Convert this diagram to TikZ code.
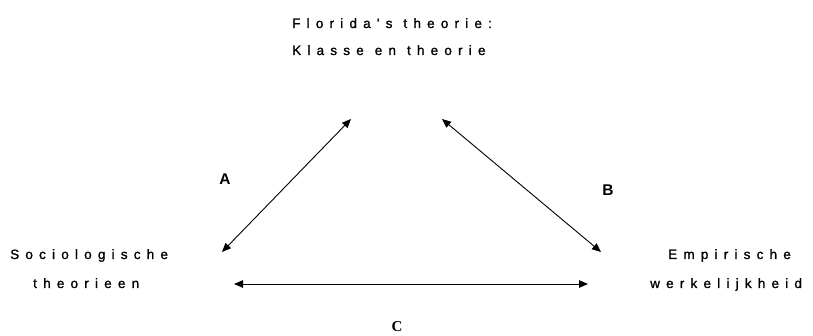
\documentclass[tikz,border=0pt]{standalone}
\usepackage{fontspec}
\setmainfont{Liberation Sans}
\newfontfamily\spaced[LetterSpace=46,FakeBold=1.2]{Liberation Sans}
\newfontfamily\serifb{Liberation Serif}
\usetikzlibrary{arrows.meta}
\newcommand{\wsp}{\hskip 11pt\relax}
\begin{document}
\begin{tikzpicture}[x=1pt,y=-1pt,
  lbl/.style={font=\spaced\fontsize{13.5}{15}\selectfont, inner sep=0pt, anchor=base west},
  letter/.style={font=\bfseries\fontsize{15.5}{17}\selectfont, inner sep=0pt},
  link/.style={line width=0.9pt, {Triangle[length=9pt,width=7.5pt]}-{Triangle[length=9pt,width=7.5pt]}}]
\useasboundingbox (0,0) rectangle (813,336);
\node[lbl] (t1) at (292,28) {Florida's\wsp theorie:};
\node[lbl] (t2) at (292,55) {Klasse\wsp en\wsp theorie};
\node[lbl] (l1) at (10,259) {Sociologische};
\node[lbl] (l2) at (33,288) {theorieen};
\node[lbl] (r1) at (668,259) {Empirische};
\node[lbl] (r2) at (650,288) {werkelijkheid};
\coordinate (a1) at (222,252);
\coordinate (a2) at (351,119);
\coordinate (b1) at (442,119);
\coordinate (b2) at (601,252);
\coordinate (c1) at (234,284);
\coordinate (c2) at (588,284);
\draw[link] (a1) -- (a2);
\draw[link] (b1) -- (b2);
\draw[link] (c1) -- (c2);
\node[letter] (A) at (225,179) {A};
\node[letter] (B) at (608,190) {B};
\node[letter, font=\serifb\bfseries\fontsize{15}{17}\selectfont] (C) at (397,327) {C};
\end{tikzpicture}
\end{document}
